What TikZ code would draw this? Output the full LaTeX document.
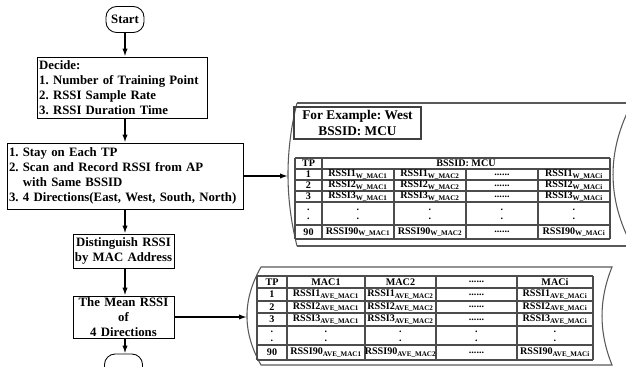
\documentclass[tikz,border=0pt]{standalone}
\usepackage{fontspec}
\setmainfont{Liberation Serif}
\usetikzlibrary{arrows.meta}
\frenchspacing

\begin{document}
\begin{tikzpicture}
[x=0.75pt,y=-0.75pt,
 flowbox/.style={draw,line width=0.65pt,inner sep=1.5pt,font=\fontsize{9.6}{11.25}\selectfont\bfseries},
 terminal/.style={flowbox,rounded corners=8pt,minimum width=28.5pt,minimum height=19.5pt},
 flowarrow/.style={-{Latex[length=6pt,width=4pt]},line width=1.1pt},
 datashape/.style={draw=black!65,line width=0.8pt},
 tabline/.style={draw=black!70,line width=0.8pt},
 cell/.style={inner sep=0pt,align=center,font=\fontsize{7.6}{8}\selectfont\bfseries},
 dotcell/.style={cell,font=\fontsize{7.6}{6.8}\selectfont\bfseries}]
\useasboundingbox (0,0) rectangle (626,367);

%% flow chart on the left
\node[terminal] (start) at (125,19.5) {Start};
\node[flowbox,text width=125pt,align=left,minimum height=45.75pt] (decide) at (122.5,87.5)
  {Decide:\\1. Number of Training Point\\2. RSSI Sample Rate\\3. RSSI Duration Time};
\node[flowbox,text width=174pt,align=left,minimum height=49.5pt] (record) at (125,176)
  {1. Stay on Each TP\\2. Scan and Record RSSI from AP\\\phantom{2. }with Same BSSID\\3. 4 Directions(East, West, South, North)};
\node[flowbox,text width=75pt,inner xsep=0.375pt,align=center,minimum height=25.5pt] (distinguish) at (123.5,251)
  {Distinguish RSSI\\by MAC Address};
\node[flowbox,text width=75pt,inner xsep=0.375pt,align=center,minimum height=31.5pt,inner ysep=0.5pt] (mean) at (123.5,317)
  {The Mean RSSI\\of\\4 Directions};
\node[terminal] (finish) at (123.5,367) {};

\draw[flowarrow] (start) -- (decide.north -| start);
\draw[flowarrow] (decide.south -| start) -- (record.north -| start);
\draw[flowarrow] (record.south -| start) -- (distinguish.north -| start);
\draw[flowarrow] (distinguish.south -| start) -- (mean.north -| start);
\draw[flowarrow] (mean.south -| start) -- (finish.north -| start);

%% sheet of one direction
\coordinate (westin) at (288,174);
\draw[datashape] (297,103) -- (640,103) (297,246) -- (640,246);
\draw[datashape] (297,103) .. controls (285,151) and (285,198) .. (297,246);
\draw[datashape] (632,103) .. controls (606.7,151) and (606.7,198) .. (632,246);
\draw[flowarrow] (record.east) -- (westin |- record.east);

\node[draw=black!75,line width=0.8pt,inner sep=0pt,minimum width=95.25pt,minimum height=24pt,
  align=center,font=\fontsize{10}{11.5}\selectfont\bfseries] (example) at (357.5,123)
  {For Example: West\\BSSID: MCU};

\foreach \y in {158,169,180,191,202,225,239}
{
  \draw[tabline] (295,\y) -- (610,\y);
}
\draw[tabline] (295,158) -- (295,239) (322,158) -- (322,239) (610,158) -- (610,239);
\foreach \x in {394,466,538}
{
  \draw[tabline] (\x,169) -- (\x,239);
}
\node[cell] (wtp) at (308.5,163.5) {TP};
\node[cell] (wbssid) at (466,163.5) {BSSID: MCU};
\foreach \row/\y in {1/174.5,2/185.5,3/196.5,90/232}
{
  \node[cell] (w\row-tp) at (308.5,\y) {\row};
  \node[cell] (w\row-a) at (358,\y) {RSSI\row\textsubscript{W\_MAC1}};
  \node[cell] (w\row-b) at (430,\y) {RSSI\row\textsubscript{W\_MAC2}};
  \node[cell] (w\row-c) at (502,\y) {......};
  \node[cell] (w\row-d) at (574,\y) {RSSI\row\textsubscript{W\_MACi}};
}
\foreach \x [count=\i] in {308.5,358,430,502,574}
{
  \node[dotcell] (wdot\i) at (\x,214) {.\\.};
}

%% sheet of the mean values
\coordinate (avein) at (247,317);
\draw[datashape] (261,267) -- (612,267) .. controls (598.7,300) and (598.7,332) .. (612,365)
  -- (261,365) .. controls (242.3,332) and (242.3,300) .. (261,267) -- cycle;
\draw[flowarrow] (mean.east) -- (avein |- mean.east);

\foreach \y in {276,288,301,313,326,345,360}
{
  \draw[tabline] (257,\y) -- (593,\y);
}
\foreach \x in {257,287,365,436,517,593}
{
  \draw[tabline] (\x,276) -- (\x,360);
}
\node[cell] (atp) at (272,282) {TP};
\node[cell] (amac1) at (326,282) {MAC1};
\node[cell] (amac2) at (400.5,282) {MAC2};
\node[cell] (amacc) at (476.5,282) {......};
\node[cell] (amaci) at (555,282) {MACi};
\foreach \row/\y in {1/294.5,2/307,3/319.5,90/352.5}
{
  \node[cell] (a\row-tp) at (272,\y) {\row};
  \node[cell] (a\row-a) at (326,\y) {RSSI\row\textsubscript{AVE\_MAC1}};
  \node[cell] (a\row-b) at (400.5,\y) {RSSI\row\textsubscript{AVE\_MAC2}};
  \node[cell] (a\row-c) at (476.5,\y) {......};
  \node[cell] (a\row-d) at (555,\y) {RSSI\row\textsubscript{AVE\_MACi}};
}
\foreach \x [count=\i] in {272,326,400.5,476.5,555}
{
  \node[dotcell] (adot\i) at (\x,336) {.\\.};
}
\end{tikzpicture}
\end{document}
